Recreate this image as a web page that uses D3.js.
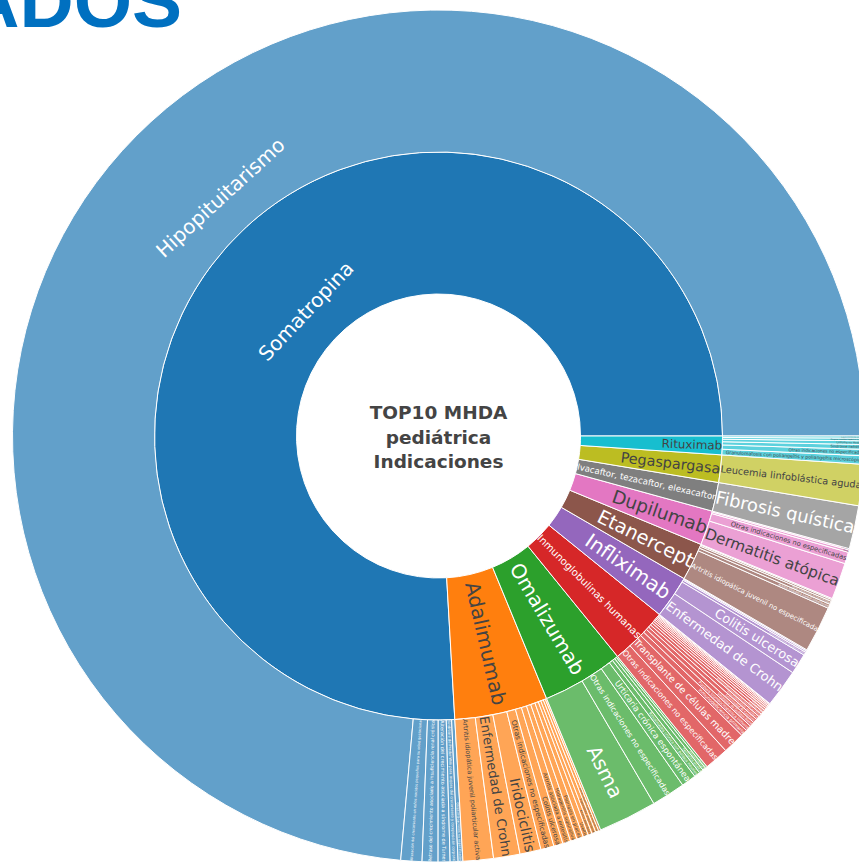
<!DOCTYPE html>
<html><head><meta charset="utf-8">
<script src="https://cdn.jsdelivr.net/npm/d3@7"></script>
<style>body{margin:0;background:#fff;overflow:hidden} svg{display:block}</style>
</head><body>
<svg id="chart" width="859" height="864"></svg>
<script>
// ---------------- DATA ----------------
const titleText = "RESULTADOS";
const centerLines = ["TOP10 MHDA", "pediátrica", "Indicaciones"];
const drugs = ["Somatropina", "Adalimumab", "Omalizumab", "Inmunoglobulinas humanas", "Infliximab",
  "Etanercept", "Dupilumab", "Ivacaftor, tezacaftor, elexacaftor", "Pegaspargasa", "Rituximab"];

const somatropinaLabels = ["Hipopituitarismo",
  "Alteración del crecimiento en niños nacidos pequeños para su edad gestacional",
  "Retraso del crecimiento asociado a insuficiencia renal crónica",
  "Alteración del crecimiento asociada a síndrome de Turner",
  "Síndrome de Prader-Willi para mejora del crecimiento y composición corporal",
  "Otras indicaciones no especificadas"];
const somatropinaValues = [735.7, 8.0, 6.0, 4.5, 3.0, 1.8];

const adalimumabLabels = ["Artritis idiopática juvenil poliarticular activa", "Enfermedad de Crohn", "Iridociclitis",
  "Otras indicaciones no especificadas", "Colitis ulcerosa", "Artritis asociada a entesitis", "Hidradenitis supurativa",
  "Psoriasis en placas", "Uveítis", "Artritis psoriásica", "Espondilitis anquilosante",
  "Artritis idiopática juvenil no especificada", "Enfermedad de Behçet"];
const adalimumabValues = [11.5, 10, 8, 5, 3.5, 3, 2.5, 2.5, 2, 1.5, 1.5, 1.2, 0.8];

const omalizumabLabels = ["Asma", "Otras indicaciones no especificadas", "Urticaria crónica espontánea",
  "Rinosinusitis crónica con pólipos nasales", "Dermatitis atópica", "Alergia alimentaria", "Mastocitosis"];
const omalizumabValues = [22.2, 12.8, 5.6, 2.2, 1.6, 1.2, 0.8];

const inmunoglobulinasLabels = ["Otras indicaciones no especificadas", "Transplante de células madre",
  "Inmunodeficiencia primaria", "Púrpura trombocitopénica inmune", "Síndrome de Guillain-Barré",
  "Enfermedad de Kawasaki", "Inmunodeficiencia secundaria", "Polineuropatía desmielinizante inflamatoria crónica",
  "Miastenia gravis", "Dermatomiositis", "Encefalitis autoinmune", "Neuropatía motora multifocal",
  "Prevención de infecciones", "Síndrome de shock tóxico", "Anemia hemolítica autoinmune", "Sepsis neonatal"];
const inmunoglobulinasValues = [9.2, 8.3, 2.5, 2.2, 1.8, 1.6, 1.4, 1.2, 1.0, 0.9, 0.8, 0.7, 0.6, 0.5, 0.4, 0.2];

const infliximabLabels = ["Enfermedad de Crohn", "Colitis ulcerosa", "Otras indicaciones no especificadas",
  "Artritis idiopática juvenil", "Uveítis"];
const infliximabValues = [14.4, 7.8, 1.2, 0.6, 0.4];

const etanerceptLabels = ["Artritis idiopática juvenil no especificada", "Artritis idiopática juvenil poliarticular",
  "Otras indicaciones no especificadas", "Artritis psoriásica", "Psoriasis en placas"];
const etanerceptValues = [17.5, 1.6, 1.2, 0.7, 0.4];

const dupilumabLabels = ["Dermatitis atópica", "Otras indicaciones no especificadas", "Asma", "Prurigo nodular"];
const dupilumabValues = [13.9, 4.4, 0.9, 0.5];

const ivacaftorLabels = ["Fibrosis quística"];
const ivacaftorValues = [16.4];

const pegaspargasaLabels = ["Leucemia linfoblástica aguda"];
const pegaspargasaValues = [15.6];

const rituximabLabels = ["Granulomatosis con poliangeítis y poliangeítis microscópica", "Otras indicaciones no especificadas",
  "Síndrome nefrótico", "Linfoma no Hodgkin", "Púrpura trombocitopénica inmune", "Lupus eritematoso sistémico"];
const rituximabValues = [3.2, 2.4, 1.8, 1.4, 1.0, 0.8];

const childLabels = [somatropinaLabels, adalimumabLabels, omalizumabLabels, inmunoglobulinasLabels, infliximabLabels,
  etanerceptLabels, dupilumabLabels, ivacaftorLabels, pegaspargasaLabels, rituximabLabels];
const childValues = [somatropinaValues, adalimumabValues, omalizumabValues, inmunoglobulinasValues, infliximabValues,
  etanerceptValues, dupilumabValues, ivacaftorValues, pegaspargasaValues, rituximabValues];

// ---------------- CHART ----------------
const svg = d3.select("#chart");
const cx = 438.5, cy = 436;
const FONT = "Verdana, 'DejaVu Sans', sans-serif";
const MAXFONT = 20;

const tree = {name: "root", children: drugs.map((dname, i) => ({
  name: dname, children: childLabels[i].map((l, j) => ({name: l, value: childValues[i][j]}))
}))};
const root = d3.hierarchy(tree).sum(d => d.value || 0).sort((a, b) => b.value - a.value);
d3.partition().size([1, 3])(root);

const angle = d3.scaleLinear().domain([0, 1]).range([Math.PI / 2, Math.PI / 2 - 2 * Math.PI]);
const radius = d3.scaleLinear().domain([0, 3]).range([0, 426]);
const color = d3.scaleOrdinal(drugs, d3.schemeCategory10);

const arc = d3.arc()
  .startAngle(d => angle(d.x0)).endAngle(d => angle(d.x1))
  .innerRadius(d => radius(d.y0)).outerRadius(d => radius(d.y1));

const g = svg.append("g").attr("transform", `translate(${cx},${cy})`);
const nodes = root.descendants().filter(d => d.depth > 0);
const drugOf = d => d.depth === 1 ? d.data.name : d.parent.data.name;

g.selectAll("path.slice").data(nodes).join("path")
  .attr("class", "slice")
  .attr("d", arc)
  .attr("fill", d => color(drugOf(d)))
  .attr("fill-opacity", d => d.children ? 1 : 0.7)
  .attr("stroke", "#fff").attr("stroke-width", 1);

// root (hole)
g.append("circle").attr("r", radius(1) - 0.5).attr("fill", "#fff");

// text fitting (plotly-like auto orientation)
const measurer = svg.append("text").attr("font-family", FONT).attr("font-size", 20).attr("visibility", "hidden");
function measure(t) { measurer.text(t); return measurer.node().getComputedTextLength(); }

function fit(w, h, r0, r1, half, radial) {
  const t = Math.tan(half), big = half >= Math.PI / 2 - 1e-6;
  function bounds(s) {
    const W = w * s, H = h * s;
    let lo, hi;
    if (radial) {
      lo = Math.max(r0 + W / 2, big ? -1e9 : H / 2 / t + W / 2);
      hi = Math.sqrt(Math.max(0, r1 * r1 - H * H / 4)) - W / 2;
    } else {
      lo = Math.max(r0 + H / 2, big ? -1e9 : W / 2 / t + H / 2);
      hi = Math.sqrt(Math.max(0, r1 * r1 - W * W / 4)) - H / 2;
    }
    return [lo, hi];
  }
  let a = 0, b = 20;
  for (let k = 0; k < 60; k++) { const m = (a + b) / 2; const [lo, hi] = bounds(m); if (lo <= hi) a = m; else b = m; }
  const [lo, hi] = bounds(a);
  return {s: a, rc: (lo + hi) / 2};
}
function norm(deg) { while (deg > 90) deg -= 180; while (deg <= -90) deg += 180; return deg; }
function brightness(c) { const r = d3.rgb(c); return (r.r * 299 + r.g * 587 + r.b * 114) / 1000; }

nodes.forEach(d => {
  const label = d.data.name;
  const w = measure(label);
  const a0 = d.x0 * 2 * Math.PI, a1 = d.x1 * 2 * Math.PI;
  const half = Math.min(a1 - a0, Math.PI) / 2;
  const mid = (a0 + a1) / 2;
  const r1 = radius(d.y1), r0 = radius(d.y0);
  const tan = fit(w, 20 * 1.45, r0, r1, half, false);
  const rad = fit(w, 20 * 1.25, r0, r1, half, true);
  const isRad = rad.s > tan.s;
  const use = isRad ? rad : tan;
  const fs = Math.min(MAXFONT, 20 * use.s);
  if (fs < 0.6) return;
  const px = use.rc * Math.cos(mid), py = -use.rc * Math.sin(mid);
  const rot = norm(-mid * 180 / Math.PI + (isRad ? 0 : 90));
  const fill = brightness(color(drugOf(d))) > 128 ? "#444" : "#fff";
  g.append("text")
    .attr("transform", `translate(${px},${py}) rotate(${rot})`)
    .attr("text-anchor", "middle").attr("dy", "0.35em")
    .attr("font-family", FONT).attr("font-size", fs)
    .attr("fill", fill).text(label);
});
measurer.remove();

// center label
g.append("text").attr("text-anchor", "middle")
  .attr("font-family", "Verdana, 'DejaVu Sans', sans-serif").attr("font-weight", "bold")
  .attr("font-size", 18.5).attr("fill", "#444")
  .selectAll("tspan").data(centerLines).join("tspan")
  .attr("x", 0).attr("y", (d, i) => -23 + i * 24.5).attr("dy", "0.35em").text(d => d);

// title (cropped by the page edge, as in the reference)
svg.append("text").attr("x", 182).attr("y", 27).attr("text-anchor", "end")
  .attr("font-family", "'Liberation Sans', Arial, sans-serif").attr("font-weight", "bold")
  .attr("font-size", 75).attr("fill", "#0070c0").text(titleText);
</script>
</body></html>
